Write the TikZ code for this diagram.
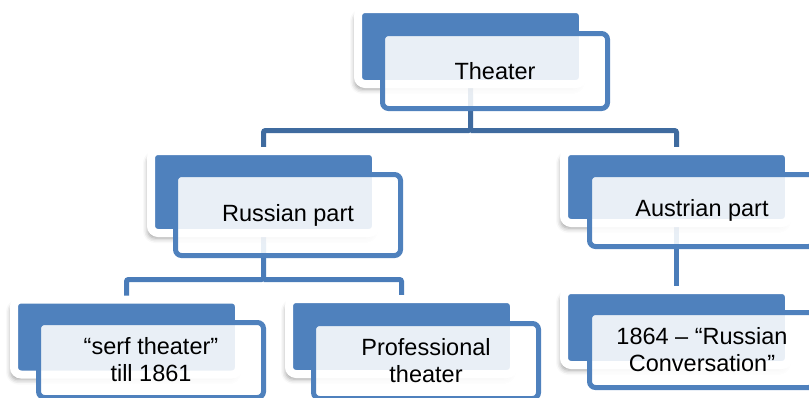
\documentclass[tikz,border=0pt]{standalone}
\usepackage{fontspec}
\setmainfont{Liberation Sans}
\usetikzlibrary{shadows.blur,backgrounds}
\definecolor{boxblue}{HTML}{4F81BD}
\definecolor{linedark}{HTML}{3F6B9F}
\definecolor{linemid}{HTML}{4A7CB9}

\begin{document}
\begin{tikzpicture}[x=1pt,y=-1pt,
    back/.style={draw=white,line width=8pt,fill=boxblue,rounded corners=7pt,
      minimum width=225pt,minimum height=75pt,inner sep=0pt,outer sep=0pt,
      blur shadow={shadow xshift=-3pt,shadow yshift=-5pt,shadow blur radius=5pt,shadow opacity=40}},
    front/.style={draw=boxblue,line width=5pt,fill=white,fill opacity=0.88,text opacity=1,
      rounded corners=6pt,minimum width=225pt,minimum height=75pt,inner sep=0pt,outer sep=0pt,
      align=center,font=\fontsize{23.5}{27}\selectfont},
    link/.style={line width=5pt,rounded corners=2pt}]
      \useasboundingbox (0,0) rectangle (809,397);
      \node[back] at (470.5,46.5) (theater) {};
      \node[back,minimum height=82pt] at (263.5,192) (russian) {};
      \node[back,minimum height=72pt] at (676.5,187) (austrian) {};
      \node[back] at (126.5,337) (serf) {};
      \node[back] at (401.5,336.5) (prof) {};
      \node[back] at (676.5,327.5) (conv) {};
      \coordinate (busA) at (470.5,130.5);
      \coordinate (busB) at (263.5,279.5);
      \begin{scope}[on background layer]
        \draw[link,linedark] (theater.south) -- (busA) -| (russian.north);
        \draw[link,linedark] (busA) -| (austrian.north);
        \draw[link,linemid] (russian.south) -- (busB) -| (serf.north);
        \draw[link,linemid] (busB) -| (prof.north);
        \draw[link,linemid] (austrian.south) -- (conv.north);
      \end{scope}
      \node[front] at (495,71) (theaterT) {Theater};
      \node[front,minimum height=81pt] at (288,215) (russianT) {Russian part};
      \node[front,minimum height=72pt] at (702,210.5) (austrianT) {Austrian part};
      \node[front] at (151,360) (serfT) {“serf theater”\\till 1861};
      \node[front] at (426,361) (profT) {Professional\\theater};
      \node[front] at (702,350) (convT) {1864 – “Russian\\Conversation”};
    \end{tikzpicture}
\end{document}
